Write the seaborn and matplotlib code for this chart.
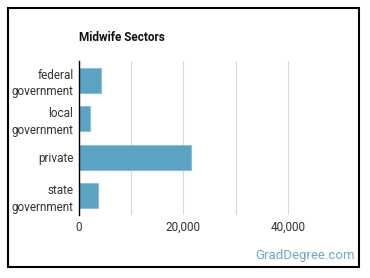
import seaborn as sb
import pandas as pd
from matplotlib import pyplot as plt
from matplotlib.patches import Rectangle
from matplotlib.ticker import FuncFormatter

# data
sectors = ["federal\ngovernment", "local\ngovernment", "private", "state\ngovernment"]
workers = [4200, 2100, 21500, 3600]
x_ticks = [0, 20000, 40000]

df = pd.DataFrame({"Sector": sectors, "Workers": workers})

sb.set_style("white")
plt.rcParams["font.family"] = ["Roboto", "DejaVu Sans"]

fig = plt.figure(figsize=(3.7, 2.78), dpi=100)
ax = fig.add_axes([79 / 370, 1 - 215 / 278, (340 - 79) / 370, (215 - 61) / 278])

sb.barplot(data=df, x="Workers", y="Sector", color="#5ba3c2", saturation=1,
           width=0.65, edgecolor="#8cc0d6", linewidth=0.8, ax=ax)

ax.set_xlim(0, 50000)
ax.set_xticks(x_ticks)
ax.set_xticks([10000, 30000], minor=True)
ax.xaxis.set_major_formatter(FuncFormatter(lambda v, p: f"{int(v):,}"))
ax.set_yticks(range(len(sectors)), labels=sectors, multialignment="right", linespacing=1.35)
ax.grid(axis="x", which="both", color="#d9d9d9", linewidth=0.8)
ax.set_axisbelow(True)
ax.set_xlabel("")
ax.set_ylabel("")
ax.tick_params(axis="both", which="both", length=0, labelsize=8.5, colors="#333333", pad=4)
for s in ["top", "right", "bottom"]:
    ax.spines[s].set_visible(False)
ax.spines["left"].set_color("black")
ax.spines["left"].set_linewidth(1)

fig.text(79 / 370, 1 - 37 / 278, "Midwife Sectors", fontsize=8.5, fontweight="bold",
         color="#111111", va="center", ha="left")
fig.text(355 / 370, 1 - 255 / 278, "GradDegree.com", fontsize=9.5, color="#6fa8c8",
         va="center", ha="right")
fig.patches.append(Rectangle((8 / 370, 1 - 267 / 278), (359 - 8) / 370, (267 - 8) / 278,
                             transform=fig.transFigure, fill=False, edgecolor="black",
                             linewidth=1.5))

plt.savefig("out.png", dpi=100)
